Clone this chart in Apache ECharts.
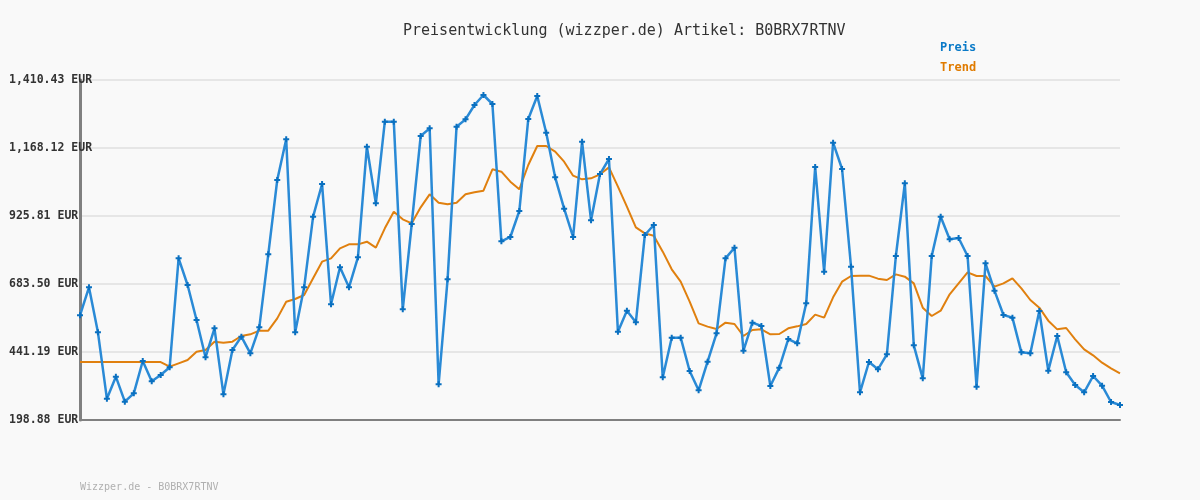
<!DOCTYPE html>
<html>
<head>
<meta charset="utf-8">
<script src="https://cdn.jsdelivr.net/npm/echarts@6/dist/echarts.min.js"></script>
<style>
html,body{margin:0;padding:0;background:#f9f9f9;}
#chart{width:1200px;height:500px;}
</style>
</head>
<body>
<div id="chart"></div>
<script>
var titleText = 'Preisentwicklung (wizzper.de) Artikel: B0BRX7RTNV';
var footerText = 'Wizzper.de - B0BRX7RTNV';
var seriesNames = ['Preis', 'Trend'];
var yTicks = [198.88, 441.19, 683.50, 925.81, 1168.12, 1410.43];

var preis = [
571.9, 671.6, 511.3, 274.9, 353.2, 264.1, 293.9, 409.1, 336.7, 359.2,
386.6, 774.9, 679.9, 555.2, 422.2, 525.5, 290.4, 448.3, 495.8, 436.4,
529.0, 789.2, 1054.1, 1199.0, 511.3, 671.6, 923.4, 1039.8, 611.1, 742.9,
671.6, 778.5, 1172.8, 970.9, 1261.9, 1261.9, 593.2, 897.3, 1210.9, 1238.2,
325.9, 700.1, 1244.1, 1270.2, 1321.3, 1357.0, 1324.9, 835.5, 851.0, 943.6,
1271.5, 1353.4, 1222.7, 1063.6, 951.9, 851.0, 1190.6, 910.4, 1075.4, 1128.9,
513.6, 588.5, 546.9, 858.1, 893.7, 350.9, 492.3, 492.3, 373.4, 304.6,
406.8, 507.7, 774.9, 812.9, 446.0, 545.7, 533.8, 320.0, 385.4, 487.5,
472.1, 614.6, 1100.4, 727.4, 1187.1, 1093.3, 745.3, 297.5, 405.5, 379.4,
432.9, 783.2, 1042.2, 464.9, 347.4, 783.2, 923.4, 842.7, 847.4, 783.2,
317.6, 757.1, 659.7, 573.0, 563.5, 440.0, 436.4, 587.3, 374.7, 498.2,
368.8, 323.6, 297.5, 355.6, 321.2, 263.0, 252.3
];

var trend = [
405.5, 405.5, 405.5, 405.5, 405.5, 405.5, 405.5, 405.5, 405.5, 405.5,
388.9, 400.8, 412.7, 442.4, 448.3, 478.0, 474.4, 478.0, 498.2, 504.1,
517.2, 517.2, 561.1, 620.5, 630.0, 644.3, 703.7, 763.1, 774.9, 810.6,
824.8, 824.8, 834.3, 812.9, 881.9, 941.2, 913.9, 899.7, 956.7, 1003.0,
973.3, 967.4, 973.3, 1003.0, 1010.1, 1016.1, 1092.1, 1083.8, 1048.2, 1020.8,
1107.5, 1175.2, 1175.2, 1155.0, 1119.4, 1069.5, 1056.5, 1060.0, 1074.3, 1099.2,
1030.3, 959.1, 885.4, 864.0, 855.7, 798.7, 735.8, 691.8, 620.5, 543.3,
531.5, 523.1, 545.7, 541.0, 498.2, 519.6, 522.0, 504.1, 505.3, 525.5,
532.6, 541.0, 574.2, 563.5, 636.0, 691.8, 712.0, 713.2, 713.2, 702.5,
697.7, 717.9, 709.6, 685.9, 599.2, 569.5, 588.5, 646.7, 685.9, 725.1,
712.0, 712.0, 674.0, 685.9, 703.7, 668.0, 626.5, 599.2, 552.8, 521.9,
526.7, 486.3, 450.7, 429.3, 403.2, 383.0, 365.2
];

var categories = [];
for (var i = 0; i < preis.length; i++) categories.push(String(i + 1));

var mono = '"DejaVu Sans Mono", "Liberation Mono", monospace';
var chart = echarts.init(document.getElementById('chart'));
chart.setOption({
  backgroundColor: '#f9f9f9',
  animation: false,
  title: {
    text: titleText,
    left: 398, top: 19,
    textStyle: { fontFamily: mono, fontSize: 15, fontWeight: 'normal', color: '#333' }
  },
  legend: {
    orient: 'vertical',
    left: 935, top: 37,
    itemWidth: 0, itemHeight: 0, itemGap: 8,
    selectedMode: false,
    data: [
      { name: seriesNames[0], icon: 'none', textStyle: { color: '#0a7ac8' } },
      { name: seriesNames[1], icon: 'none', textStyle: { color: '#e07b00' } }
    ],
    textStyle: { fontFamily: mono, fontSize: 12, fontWeight: 'bold', padding: [0,0,0,-5] }
  },
  grid: { left: 80, right: 80, top: 80, bottom: 80, containLabel: false },
  xAxis: {
    type: 'category',
    data: categories,
    boundaryGap: false,
    axisLine: { lineStyle: { color: '#808080', width: 2 } },
    axisTick: { show: false },
    axisLabel: { show: false },
    splitLine: { show: false }
  },
  yAxis: {
    type: 'value',
    min: yTicks[0],
    max: yTicks[yTicks.length - 1],
    interval: 242.31,
    axisLine: { show: true, lineStyle: { color: '#808080', width: 3 } },
    axisTick: { show: false },
    splitLine: { lineStyle: { color: '#e6e6e6', width: 2 } },
    axisLabel: {
      align: 'left',
      margin: 71,
      fontFamily: mono,
      fontSize: 11.5,
      fontWeight: 'bold',
      color: '#333',
      formatter: function (v) {
        return v.toLocaleString('en-US', { minimumFractionDigits: 2, maximumFractionDigits: 2 }) + ' EUR';
      }
    }
  },
  series: [
    {
      name: seriesNames[1],
      type: 'line',
      data: trend,
      symbol: 'none',
      lineStyle: { color: '#e0800f', width: 2 },
      itemStyle: { color: '#e07b00' },
      z: 2
    },
    {
      name: seriesNames[0],
      type: 'line',
      data: preis,
      symbol: 'path://M1,0H2V1H3V2H2V3H1V2H0V1H1Z',
      symbolSize: 6,
      showSymbol: true,
      showAllSymbol: true,
      lineStyle: { color: '#2a8ad6', width: 2.5 },
      itemStyle: { color: '#0a70c0' },
      z: 3
    }
  ],
  graphic: [
    {
      type: 'text',
      left: 80, top: 482,
      style: { text: footerText, fontFamily: mono, fontSize: 10, fill: '#b0b0b0' }
    }
  ]
});
</script>
</body>
</html>
